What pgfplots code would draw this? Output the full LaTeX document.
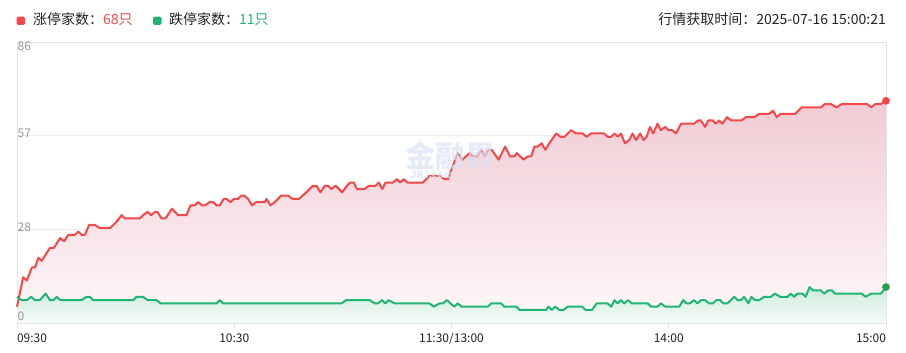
\documentclass[border=0pt]{standalone}
\usepackage{fontspec}
\setmainfont{Noto Sans CJK SC}
\usepackage{pgfplots}
\usepackage{pgfplotstable}
\pgfplotsset{compat=1.18}
\definecolor{upred}{RGB}{244,72,72}
\definecolor{downgreen}{RGB}{33,181,115}
\definecolor{reddot}{RGB}{240,70,70}
\definecolor{greendot}{RGB}{40,158,78}
\definecolor{redtop}{RGB}{241,203,212}
\definecolor{redbot}{RGB}{253,248,249}
\definecolor{greentop}{RGB}{206,236,221}
\definecolor{greenbot}{RGB}{245,251,248}
\definecolor{gridc}{RGB}{238,238,240}
\definecolor{axisc}{RGB}{226,226,234}
\definecolor{labgrey}{RGB}{150,150,150}
\definecolor{txt}{RGB}{34,34,34}
\definecolor{wm}{RGB}{218,227,246}

\pgfplotstableread{
m v
0 5
1.7 14
2.7 13
4.1 17
5 17
5.9 20
6.8 19
9.1 23
10.2 23
11.9 26
13 25
14.2 27
16 27
16.9 28
17.8 27
18.8 27
19.9 30
21.5 30
22.9 29
25.7 29
27.5 31
28.9 33
29.8 32
33.9 32
34.8 33
36.1 34
37 33
38.1 34
38.8 34
39.9 32
41 32
42.8 35
44.5 33
46.8 33
47.9 36
49.1 36
50 37
51.1 36
51.9 36
53.2 37
54.2 37
55.1 36
56 36
57.1 38
57.8 38
59 37
59.9 38
61 38
62 39
62.7 39
63.8 38
64.9 36
66.1 37
68.4 37
68.9 38
70 36
71.2 37
73 39
74.8 39
76.1 38
77.9 38
79.9 40
81.7 42
82.7 42
83.8 40
85 42
85.9 42
86.8 41
88 42
89.8 40
91.1 42
92 43
93 43
93.9 41
96 41
97.2 42
99 42
99.9 43
100.9 41
101.8 43
103.8 43
104.9 44
105.8 43
106.8 44
107.8 43
112.1 43
113.9 45
116.7 45
118.1 44
119 44
121.7 52
123 50
125 52
125.9 51
127.1 51
128.2 53
129.1 51
130.2 53
131.1 53
133 50
134.8 54
136.2 51
137.4 51
138 52
139.9 50
141.1 51
142 51
142.9 54
143.8 54
144.9 55
145.9 53
147 55
148.9 58
150.1 57
151.2 57
153 59
154.4 58
156.2 58
157.3 57
158.5 58
162.2 58
163.1 57
164.1 57
165 58
165.9 57
166.8 58
167.9 55
169.1 56
170 58
171 56
172.1 58
173 56
173.9 57
174.8 60
175.7 58
176.9 61
177.8 59
179 60
179.9 59
181 59
182 58
183.4 61
184.3 61
187 61
188.1 62
188.9 62
190 60
190.9 62
192.1 62
193 61
193.9 62
194.8 61
196.1 63
197.2 62
200.1 62
201.3 63
203.6 63
205 64
207.7 64
208.8 65
209.8 63
210.9 64
214.9 64
216.7 66
222 66
223.1 67
224.8 67
226.3 66
227.8 67
234.8 67
235.9 66
237 67
238.6 67
240 68
}\redtab

\pgfplotstableread{
m v
0 8
1.3 7
2.7 7
3.9 8
5 7
6.3 7
7.9 9
9.1 7
10 7
11 8
11.9 7
17.8 7
19.2 8
20.1 8
21 7
32.1 7
33 8
34.8 8
36.1 7
38.5 7
39.7 6
55.1 6
56 7
56.9 6
89.6 6
90.9 7
97.4 7
98.8 6
99.7 6
100.8 7
101.7 6
102.6 7
104.3 6
113.9 6
115.1 5
116.7 6
117.6 6
118.8 7
119.7 6
120.8 5
121.7 6
122.8 5
130 5
131 6
133.7 6
134.6 5
137.9 5
138.8 4
146.1 4
146.8 5
147.7 4
148.6 5
149.8 4
150.9 4
152.1 5
156.1 5
157 4
158.8 4
160.1 6
163.1 6
164.1 5
165 7
165.9 6
166.8 7
167.7 6
168.8 7
169.8 6
174.2 6
175.1 5
176.9 5
177.8 6
179 5
182.9 5
184 7
184.9 6
185.8 6
187 7
187.9 6
188.9 7
190 7
191.2 6
192.1 6
193.2 7
194.2 7
195.1 6
196.2 6
198.1 8
199 7
199.9 7
200.8 8
202 6
202.8 8
203.8 7
205 7
206.3 8
208.2 8
209.3 9
210.8 8
212.8 8
213.7 9
214.6 8
215.5 9
216.9 9
217.8 8
218.9 11
219.8 10
222 10
222.9 9
224.1 10
225 10
225.9 9
233.3 9
234.4 8
235.8 9
238.6 9
240 11
}\greentab

\newcommand{\hdr}{\fontsize{14pt}{16pt}\selectfont}
\newcommand{\tickf}{\fontsize{12pt}{14pt}\selectfont}

\begin{document}
\begin{tikzpicture}
\useasboundingbox (-17pt,-30pt) rectangle (889pt,323pt);
\begin{axis}[
  at={(0pt,0pt)}, anchor=south west,
  width=869pt, height=281pt, scale only axis,
  xmin=0, xmax=240, ymin=0, ymax=86,
  axis line style={draw=axisc, line width=0.8pt},
  xtick={0,60,120,180,240},
  xticklabels={\rlap{09:30},10:30,11:30/13:00,14:00,\llap{15:00}},
  xticklabel style={font=\tickf, text=txt, anchor=base, yshift=-15pt},
  xtick pos=bottom, tick align=outside, major tick length=5pt,
  x tick style={draw=axisc, line width=0.8pt},
  ytick={0,28.6667,57.3333,86},
  yticklabels={},
  y tick style={draw=none},
  ymajorgrids, grid style={draw=gridc, line width=0.8pt},
  clip=false,
]
\addplot[draw=none, top color=redtop, bottom color=redbot] table[x=m,y=v]{\redtab} \closedcycle;
\addplot[draw=none, top color=greentop, bottom color=greenbot] table[x=m,y=v]{\greentab} \closedcycle;
\addplot[upred, line width=2pt, line join=round, mark=none] table[x=m,y=v]{\redtab};
\addplot[downgreen, line width=2pt, line join=round, mark=none] table[x=m,y=v]{\greentab};
\addplot[color=reddot, only marks, mark=*, mark size=3.6pt] coordinates {(240,68)};
\addplot[color=greendot, only marks, mark=*, mark size=3.6pt] coordinates {(240,11)};
\node[anchor=base west, inner sep=0pt, font=\tickf, text=labgrey] at (axis cs:0,86) [xshift=0.5pt, yshift=-8.7pt] {86};
\node[anchor=base west, inner sep=0pt, font=\tickf, text=labgrey] at (axis cs:0,57.3333) [xshift=0.5pt, yshift=-2pt] {57};
\node[anchor=base west, inner sep=0pt, font=\tickf, text=labgrey] at (axis cs:0,28.6667) [xshift=0.5pt, yshift=-2.5pt] {28};
\node[anchor=base west, inner sep=0pt, font=\tickf, text=labgrey] at (axis cs:0,0) [xshift=0.5pt, yshift=2.3pt] {0};
\end{axis}
% watermark
\node[font=\fontsize{30pt}{32pt}\selectfont\bfseries, text=wm, text opacity=0.7, inner sep=0pt] at (433pt,167pt) {金融界};
\node[font=\fontsize{10pt}{11pt}\selectfont\bfseries, text=wm, text opacity=0.8, inner sep=0pt] at (415pt,148pt) {JRJ.com};
% header
\fill[upred, rounded corners=1.5pt] (-0.3pt,298pt) rectangle (8pt,306.3pt);
\node[anchor=base west, inner sep=0pt, font=\hdr, text=txt] at (16pt,298.5pt) {涨停家数：\textcolor{upred}{68只}};
\fill[downgreen, rounded corners=1.5pt] (136pt,298pt) rectangle (144.5pt,306.3pt);
\node[anchor=base west, inner sep=0pt, font=\hdr, text=txt] at (152pt,298.5pt) {跌停家数：\textcolor{downgreen}{11只}};
\node[anchor=base east, inner sep=0pt, font=\hdr, text=txt] at (869pt,298.5pt) {行情获取时间：2025-07-16 15:00:21};
\end{tikzpicture}
\end{document}
